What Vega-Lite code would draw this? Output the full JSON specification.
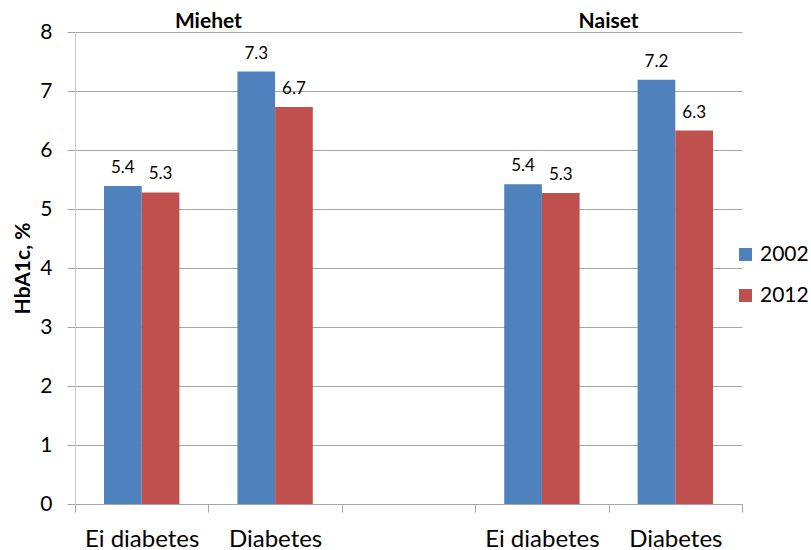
{
  "$schema": "https://vega.github.io/schema/vega-lite/v6.json",
  "width": 667,
  "height": 472,
  "autosize": {"type": "none"},
  "padding": {"left": 75, "top": 32, "right": 69, "bottom": 46},
  "background": "white",
  "config": {"view": {"stroke": null}, "font": "Lato"},
  "datasets": {
    "bars": [
      {"slot": "Ei diabetes|M", "year": "2002", "value": 5.39},
      {"slot": "Ei diabetes|M", "year": "2012", "value": 5.28},
      {"slot": "Diabetes|M", "year": "2002", "value": 7.33},
      {"slot": "Diabetes|M", "year": "2012", "value": 6.73},
      {"slot": "Ei diabetes|N", "year": "2002", "value": 5.42},
      {"slot": "Ei diabetes|N", "year": "2012", "value": 5.27},
      {"slot": "Diabetes|N", "year": "2002", "value": 7.19},
      {"slot": "Diabetes|N", "year": "2012", "value": 6.33}
    ],
    "groups": [
      {"slot": "Ei diabetes|M", "group": "Miehet"},
      {"slot": "Ei diabetes|N", "group": "Naiset"}
    ]
  },
  "layer": [
    {
      "data": {"name": "bars"},
      "mark": {"type": "bar"},
      "encoding": {
        "x": {
          "field": "slot",
          "type": "nominal",
          "scale": {"domain": ["Ei diabetes|M", "Diabetes|M", "|gap", "Ei diabetes|N", "Diabetes|N"], "paddingInner": 0, "paddingOuter": 0},
          "axis": {
            "title": null,
            "labelExpr": "isString(datum.value) ? split(datum.value, '|')[0] : ''",
            "labelAngle": 0,
            "labelFontSize": 24,
            "labelColor": "#000000",
            "labelPadding": 15,
            "tickBand": "extent",
            "ticks": true,
            "tickSize": 8,
            "tickColor": "#A6A6A6",
            "domainColor": "#A6A6A6",
            "grid": false
          }
        },
        "xOffset": {"field": "year", "type": "nominal", "scale": {"paddingInner": 0, "paddingOuter": 0.77}},
        "y": {
          "field": "value",
          "type": "quantitative",
          "scale": {"domain": [0, 8]},
          "axis": {
            "values": [0, 1, 2, 3, 4, 5, 6, 7, 8],
            "format": "d",
            "title": "HbA1c, %",
            "titleFontSize": 21,
            "titleFontWeight": "bold",
            "titleColor": "#000000",
            "titlePadding": 6,
            "labelFontSize": 21,
            "labelColor": "#000000",
            "labelPadding": 15,
            "tickSize": 8,
            "tickColor": "#A6A6A6",
            "domainColor": "#C8C8C8",
            "grid": true,
            "gridColor": "#A6A6A6"
          }
        },
        "color": {
          "field": "year",
          "type": "nominal",
          "scale": {"range": ["#4F81BD", "#C0504D"]},
          "legend": {
            "title": null,
            "orient": "none",
            "legendX": 660,
            "legendY": 212,
            "padding": 0,
            "symbolType": "square",
            "symbolSize": 169,
            "symbolStrokeWidth": 0,
            "labelFontSize": 21,
            "labelColor": "#000000",
            "labelOffset": 4,
            "rowPadding": 19
          }
        }
      }
    },
    {
      "data": {"name": "bars"},
      "mark": {"type": "text", "dy": -13, "baseline": "alphabetic", "fontSize": 17, "color": "#000000"},
      "encoding": {
        "x": {"field": "slot", "type": "nominal"},
        "xOffset": {"field": "year", "type": "nominal"},
        "y": {"field": "value", "type": "quantitative"},
        "text": {"field": "value", "type": "quantitative", "format": ".1f"}
      }
    },
    {
      "data": {"name": "groups"},
      "mark": {"type": "text", "dy": -4, "baseline": "alphabetic", "fontSize": 21, "fontWeight": "bold", "color": "#000000"},
      "encoding": {
        "x": {"field": "slot", "type": "nominal", "bandPosition": 1},
        "y": {"datum": 8},
        "text": {"field": "group"}
      }
    }
  ]
}
